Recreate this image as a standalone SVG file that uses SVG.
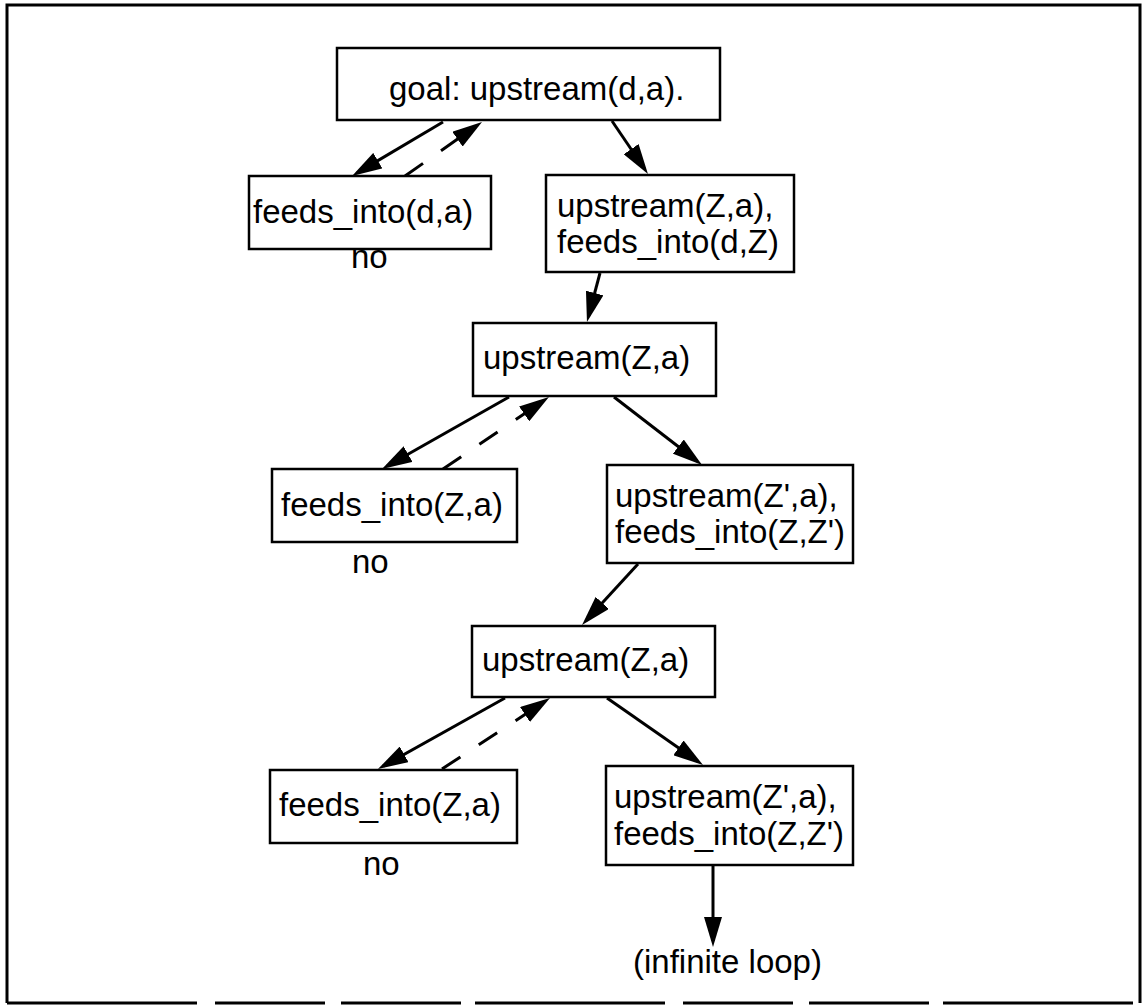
<svg xmlns="http://www.w3.org/2000/svg" width="1146" height="1007" viewBox="0 0 1146 1007">
  <style>
    .box { fill: #ffffff; stroke: #000000; stroke-width: 2.5; }
    .lbl { font-family: "Liberation Sans", Arial, Helvetica, sans-serif; font-size: 33px; fill: #000000; }
    .edge { fill: none; stroke: #000000; stroke-width: 3; marker-end: url(#head); }
    .back { stroke-dasharray: 22 22; }
    .frame { fill: none; stroke: #000000; stroke-width: 3; }
  </style>
  <defs>
    <marker id="head" viewBox="0 0 30 18" refX="24" refY="9" markerWidth="30" markerHeight="18" markerUnits="userSpaceOnUse" orient="auto">
      <path d="M0,0 L30,9 L0,18 z" fill="#000000"/>
    </marker>
  </defs>

  <rect width="1146" height="1007" fill="#ffffff"/>

  <!-- page frame -->
  <path class="frame" d="M7,1003 L7,5 L1140,5 L1140,1003"/>
  <line class="frame" x1="7" y1="1003" x2="1140" y2="1003" stroke-dasharray="190 18 110 16 120 14"/>

  <!-- connectors -->
  <g id="connectors">
    <line class="edge" x1="443" y1="122" x2="357.2" y2="172.9"/>
    <line class="edge back" x1="405" y1="176" x2="477.1" y2="125.4"/>
    <line class="edge" x1="612" y1="121" x2="644.6" y2="169"/>
    <line class="edge" x1="600" y1="273" x2="588.5" y2="316.2"/>

    <line class="edge" x1="509" y1="397" x2="387.2" y2="466"/>
    <line class="edge back" x1="443" y1="469" x2="544" y2="400.4"/>
    <line class="edge" x1="614" y1="397" x2="697.3" y2="461.3"/>
    <line class="edge" x1="638" y1="564" x2="586.1" y2="620.6"/>

    <line class="edge" x1="505" y1="698" x2="383.2" y2="766.1"/>
    <line class="edge back" x1="442" y1="769" x2="545" y2="701.3"/>
    <line class="edge" x1="607" y1="698" x2="698.1" y2="761.6"/>
    <line class="edge" x1="713" y1="866" x2="713" y2="941"/>
  </g>

  <!-- nodes -->
  <g id="goal">
    <rect class="box" x="337" y="48" width="383" height="72"/>
    <text class="lbl" x="389" y="100">goal: upstream(d,a).</text>
  </g>

  <g id="feeds1">
    <rect class="box" x="249" y="176" width="242" height="73"/>
    <text class="lbl" x="253" y="223">feeds_into(d,a)</text>
  </g>
  <g id="no1">
    <text class="lbl" x="351" y="268">no</text>
  </g>

  <g id="rec1">
    <rect class="box" x="546" y="175" width="248" height="97"/>
    <text class="lbl" x="557" y="217">upstream(Z,a),</text>
    <text class="lbl" x="557" y="253">feeds_into(d,Z)</text>
  </g>

  <g id="up1">
    <rect class="box" x="473" y="323" width="243" height="73"/>
    <text class="lbl" x="483" y="369">upstream(Z,a)</text>
  </g>

  <g id="feeds2">
    <rect class="box" x="272" y="469" width="245" height="73"/>
    <text class="lbl" x="281" y="516">feeds_into(Z,a)</text>
  </g>
  <g id="no2">
    <text class="lbl" x="352" y="573">no</text>
  </g>

  <g id="rec2">
    <rect class="box" x="607" y="465" width="246" height="98"/>
    <text class="lbl" x="615" y="507">upstream(Z',a),</text>
    <text class="lbl" x="615" y="543">feeds_into(Z,Z')</text>
  </g>

  <g id="up2">
    <rect class="box" x="472" y="626" width="243" height="71"/>
    <text class="lbl" x="482" y="671">upstream(Z,a)</text>
  </g>

  <g id="feeds3">
    <rect class="box" x="270" y="770" width="247" height="73"/>
    <text class="lbl" x="279" y="816">feeds_into(Z,a)</text>
  </g>
  <g id="no3">
    <text class="lbl" x="363" y="875">no</text>
  </g>

  <g id="rec3">
    <rect class="box" x="606" y="766" width="247" height="99"/>
    <text class="lbl" x="614" y="808">upstream(Z',a),</text>
    <text class="lbl" x="614" y="845">feeds_into(Z,Z')</text>
  </g>

  <g id="loop">
    <text class="lbl" x="633" y="973">(infinite loop)</text>
  </g>
</svg>
